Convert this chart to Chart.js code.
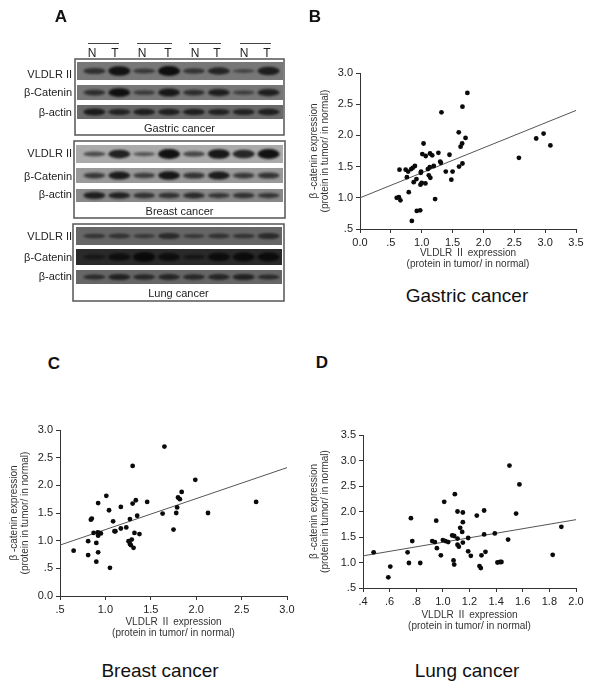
<!DOCTYPE html>
<html>
<head>
<meta charset="utf-8">
<title>VLDLR II and beta-catenin</title>
<script src="https://cdn.jsdelivr.net/npm/chart.js@4/dist/chart.umd.min.js"></script>
<style>
    html, body { margin: 0; padding: 0; background: #fff; }
    body { position: relative; width: 600px; height: 694px; overflow: hidden; font-family: "Liberation Sans", Arial, sans-serif; color: #222; }
    canvas { position: absolute; }
    .txt { position: absolute; white-space: nowrap; transform: translate(-50%, -50%); }
    .letter { font-size: 17px; font-weight: bold; color: #111; }
    .caption { font-size: 19px; color: #111; }
    .small { font-size: 11px; }
    .lane { font-size: 12px; }
    .row { font-size: 11px; transform: translate(-100%, -50%); }
</style>
</head>
<body>
<canvas id="blots" style="left:0;top:0"></canvas>
<canvas id="gastric" style="left:300px;top:60px"></canvas>
<canvas id="breast" style="left:0;top:417px"></canvas>
<canvas id="lung" style="left:300px;top:422px"></canvas>
<script>
// values
const gastricX = [1.74, 1.66, 1.32, 1.60, 1.71, 1.03, 1.655, 1.63, 1.27, 1.01, 1.135, 1.17, 1.065, 1.45, 1.30, 1.31, 1.66, 1.605, 0.64, 0.74, 0.78, 0.83, 0.855, 0.89, 0.99, 0.985, 0.76, 1.195, 1.13, 1.10, 1.39, 1.50, 1.48, 1.115, 1.14, 0.915, 0.87, 1.06, 1.00, 0.98, 0.79, 1.217, 0.595, 0.63, 0.655, 0.92, 0.975, 0.84, 2.575, 2.855, 2.975, 3.085];
const gastricY = [2.68, 2.46, 2.37, 2.05, 1.96, 1.87, 1.87, 1.82, 1.72, 1.70, 1.71, 1.68, 1.67, 1.69, 1.58, 1.56, 1.55, 1.50, 1.45, 1.45, 1.42, 1.46, 1.48, 1.51, 1.42, 1.40, 1.33, 1.51, 1.49, 1.46, 1.42, 1.42, 1.29, 1.36, 1.32, 1.30, 1.25, 1.23, 1.24, 1.21, 1.09, 0.98, 1.00, 1.01, 0.96, 0.79, 0.80, 0.63, 1.64, 1.95, 2.03, 1.84];
const gastricLineX = [0, 3.5];
const gastricLineY = [1.0, 2.4];
const gastricXTicks = ['0.0', '.5', '1.0', '1.5', '2.0', '2.5', '3.0', '3.5'];
const gastricYTicks = ['.5', '1.0', '1.5', '2.0', '2.5', '3.0'];

const breastX = [1.65, 1.30, 1.99, 1.84, 1.01, 1.80, 1.82, 1.335, 1.46, 0.92, 1.30, 1.17, 1.79, 1.04, 1.63, 1.78, 2.13, 2.66, 1.35, 0.85, 0.84, 1.27, 1.085, 1.23, 1.17, 1.75, 1.10, 1.11, 1.32, 1.375, 0.87, 0.915, 0.93, 0.95, 0.92, 0.81, 0.90, 1.255, 1.29, 1.27, 1.28, 1.31, 0.65, 0.92, 0.81, 0.90, 1.05];
const breastY = [2.70, 2.35, 2.10, 1.88, 1.81, 1.78, 1.75, 1.73, 1.70, 1.68, 1.67, 1.61, 1.60, 1.55, 1.49, 1.50, 1.50, 1.70, 1.45, 1.40, 1.38, 1.39, 1.35, 1.24, 1.22, 1.20, 1.17, 1.17, 1.14, 1.12, 1.14, 1.15, 1.14, 1.13, 1.09, 0.99, 0.96, 0.99, 1.02, 0.94, 0.92, 0.87, 0.82, 0.79, 0.74, 0.62, 0.51];
const breastLineX = [0.5, 3.0];
const breastLineY = [0.92, 2.32];
const breastXTicks = ['.5', '1.0', '1.5', '2.0', '2.5', '3.0'];
const breastYTicks = ['0.0', '.5', '1.0', '1.5', '2.0', '2.5', '3.0'];

const lungX = [1.50, 1.575, 1.09, 1.01, 1.11, 1.15, 1.31, 1.255, 1.55, 0.76, 0.95, 1.15, 1.13, 1.145, 1.89, 1.31, 1.39, 1.07, 1.085, 1.19, 1.11, 1.49, 0.77, 0.92, 0.94, 1.00, 1.02, 1.04, 1.15, 1.11, 1.12, 0.955, 0.48, 0.735, 1.19, 1.32, 1.21, 1.29, 0.985, 1.08, 1.085, 0.745, 0.83, 1.41, 1.43, 1.44, 1.275, 1.285, 1.825, 0.605, 0.59];
const lungY = [2.90, 2.53, 2.34, 2.19, 2.00, 1.98, 2.02, 1.92, 1.96, 1.87, 1.82, 1.79, 1.68, 1.60, 1.70, 1.55, 1.57, 1.53, 1.52, 1.48, 1.47, 1.45, 1.42, 1.42, 1.40, 1.44, 1.42, 1.40, 1.39, 1.35, 1.31, 1.28, 1.20, 1.20, 1.22, 1.21, 1.13, 1.14, 1.14, 1.04, 0.96, 0.99, 0.99, 1.00, 1.01, 1.01, 0.93, 0.89, 1.15, 0.92, 0.71];
const lungLineX = [0.4, 2.0];
const lungLineY = [1.13, 1.84];
const lungXTicks = ['.4', '.6', '.8', '1.0', '1.2', '1.4', '1.6', '1.8', '2.0'];
const lungYTicks = ['.5', '1.0', '1.5', '2.0', '2.5', '3.0', '3.5'];

// band strength per lane (N T N T N T N T), guessed from how dark each band looks
const lanes = ['N', 'T', 'N', 'T', 'N', 'T', 'N', 'T'];
const gastricVldlr = [0.45, 0.85, 0.35, 0.9, 0.4, 0.6, 0.2, 0.7];
const gastricCatenin = [0.5, 0.9, 0.35, 0.8, 0.5, 0.7, 0.3, 0.7];
const gastricActin = [0.7, 0.6, 0.65, 0.65, 0.65, 0.6, 0.6, 0.65];
const breastVldlr = [0.35, 0.75, 0.25, 0.9, 0.4, 0.85, 0.7, 0.9];
const breastCatenin = [0.5, 0.8, 0.45, 0.85, 0.55, 0.8, 0.5, 0.55];
const breastActin = [0.75, 0.7, 0.55, 0.55, 0.6, 0.5, 0.55, 0.5];
const lungVldlr = [0.3, 0.35, 0.25, 0.45, 0.25, 0.35, 0.3, 0.45];
const lungCatenin = [0.35, 0.7, 0.95, 0.75, 0.4, 0.8, 0.85, 0.85];
const lungActin = [0.45, 0.6, 0.5, 0.55, 0.5, 0.55, 0.6, 0.45];

const rowNames = ['VLDLR II', 'β-Catenin', 'β-actin'];

// layout of panel A, in page pixels
const blotPanels = [
    { name: 'Gastric cancer', frame: [75, 59, 284, 135], left: 77, right: 283, textY: 128,
      strips: [[62, 80, '#777'], [85, 100, '#777'], [105, 119, '#6a6a6a']], labelY: [74, 92, 112], bands: [gastricVldlr, gastricCatenin, gastricActin] },
    { name: 'Breast cancer', frame: [74, 141, 285, 218], left: 76, right: 283, textY: 211,
      strips: [[145, 163, '#aaa'], [168, 183, '#999'], [189, 202, '#888']], labelY: [153, 176, 194], bands: [breastVldlr, breastCatenin, breastActin] },
    { name: 'Lung cancer', frame: [73, 224, 284, 301], left: 76, right: 282, textY: 293,
      strips: [[227, 245, '#666'], [249, 265, '#2a2a2a'], [270, 284, '#666']], labelY: [236, 257, 276], bands: [lungVldlr, lungCatenin, lungActin] }
];
const laneRules = [[88, 119], [137, 172], [189, 221], [240, 271]];

function addText(cls, text, x, y) {
    const el = document.createElement('div');
    el.className = 'txt ' + cls;
    el.textContent = text;
    el.style.left = x + 'px';
    el.style.top = y + 'px';
    document.body.appendChild(el);
}

function toPoints(xs, ys) {
    return xs.map(function (x, i) { return { x: x, y: ys[i] }; });
}

// blurred ellipse used as the point image of one band
function bandSprite(strength, stripHeight) {
    const c = document.createElement('canvas');
    c.width = 30;
    c.height = 24;
    const g = c.getContext('2d');
    g.filter = 'blur(1.2px)';
    g.fillStyle = 'rgba(8,8,8,' + (0.35 + 0.65 * strength) + ')';
    g.beginPath();
    g.ellipse(15, 12, 11, 1 + strength * stripHeight * 0.25, 0, 0, Math.PI * 2);
    g.fill();
    return c;
}

function drawBlots() {
    const datasets = [];
    blotPanels.forEach(function (p) {
        p.bands.forEach(function (values, r) {
            const strip = p.strips[r];
            const mid = (strip[0] + strip[1]) / 2;
            datasets.push({
                data: values.map(function (v, i) { return { x: i, y: mid }; }),
                pointStyle: values.map(function (v) { return bandSprite(v, strip[1] - strip[0]); }),
                pointRadius: 10
            });
        });
    });

    const panelBackground = {
        id: 'panelBackground',
        beforeDatasetsDraw: function (chart) {
            const ctx = chart.ctx;
            ctx.save();
            blotPanels.forEach(function (p) {
                ctx.strokeStyle = '#555';
                ctx.lineWidth = 1.5;
                ctx.strokeRect(p.frame[0], p.frame[1], p.frame[2] - p.frame[0], p.frame[3] - p.frame[1]);
                p.strips.forEach(function (s) {
                    ctx.fillStyle = s[2];
                    ctx.fillRect(p.left, s[0], p.right - p.left, s[1] - s[0]);
                });
            });
            ctx.strokeStyle = '#444';
            ctx.lineWidth = 1;
            laneRules.forEach(function (l) {
                ctx.beginPath();
                ctx.moveTo(l[0], 43.5);
                ctx.lineTo(l[1], 43.5);
                ctx.stroke();
            });
            ctx.restore();
        }
    };

    const canvas = document.getElementById('blots');
    canvas.width = 300;
    canvas.height = 310;
    new Chart(canvas, {
        type: 'scatter',
        data: { datasets: datasets },
        plugins: [panelBackground],
        options: {
            responsive: false,
            animation: false,
            layout: { autoPadding: false, padding: { left: 82, right: 19, top: 0, bottom: 0 } },
            plugins: { legend: { display: false }, tooltip: { enabled: false } },
            scales: {
                x: { display: false, min: -0.5, max: 7.5 },
                y: { display: false, min: 0, max: 310, reverse: true }
            }
        }
    });
}

function drawScatter(id, size, box, xs, ys, lineX, lineY, xRange, yRange, xStep, yStep, xTicks, yTicks) {
    const canvas = document.getElementById(id);
    canvas.width = size[0];
    canvas.height = size[1];
    return new Chart(canvas, {
        type: 'scatter',
        data: {
            datasets: [
                {
                    data: toPoints(xs, ys),
                    backgroundColor: '#0a0a0a',
                    borderWidth: 0,
                    pointRadius: 2.4
                },
                {
                    type: 'line',
                    data: toPoints(lineX, lineY),
                    borderColor: '#555',
                    borderWidth: 1,
                    pointRadius: 0
                }
            ]
        },
        options: {
            responsive: false,
            animation: false,
            layout: { padding: { left: 0, right: 14, top: 13, bottom: 0 } },
            plugins: { legend: { display: false }, tooltip: { enabled: false } },
            scales: {
                x: {
                    type: 'linear',
                    min: xRange[0],
                    max: xRange[1],
                    afterFit: function (scale) { scale.height = box[1]; },
                    border: { color: '#333' },
                    grid: { drawOnChartArea: false, tickLength: 4, tickColor: '#333' },
                    ticks: {
                        stepSize: xStep,
                        autoSkip: false,
                        maxRotation: 0,
                        padding: 3,
                        color: '#222',
                        font: { family: '"Liberation Sans"', size: 11 },
                        callback: function (v, i) { return xTicks[i]; }
                    },
                    title: {
                        display: true,
                        text: ['VLDLR Ⅱ expression', '(protein in tumor/ in normal)'],
                        color: '#333',
                        padding: 0,
                        font: { family: '"Liberation Sans", "Noto Sans CJK SC"', size: 10, lineHeight: 1.1 }
                    }
                },
                y: {
                    min: yRange[0],
                    max: yRange[1],
                    afterFit: function (scale) { scale.width = box[0]; },
                    border: { color: '#333' },
                    grid: { drawOnChartArea: false, tickLength: 4, tickColor: '#333' },
                    ticks: {
                        stepSize: yStep,
                        autoSkip: false,
                        padding: 3,
                        color: '#222',
                        font: { family: '"Liberation Sans"', size: 11 },
                        callback: function (v, i) { return yTicks[i]; }
                    },
                    title: {
                        display: true,
                        text: ['β -catenin expression', '(protein in tumor/ in normal)'],
                        color: '#333',
                        padding: 9,
                        font: { family: '"Liberation Sans"', size: 10, lineHeight: 1.1 }
                    }
                }
            }
        }
    });
}

drawBlots();
drawScatter('gastric', [290, 210], [60, 41], gastricX, gastricY, gastricLineX, gastricLineY, [0, 3.5], [0.5, 3], 0.5, 0.5, gastricXTicks, gastricYTicks);
drawScatter('breast', [301, 222], [60, 43], breastX, breastY, breastLineX, breastLineY, [0.5, 3], [0, 3], 0.5, 0.5, breastXTicks, breastYTicks);
drawScatter('lung', [290, 210], [63, 44], lungX, lungY, lungLineX, lungLineY, [0.4, 2], [0.5, 3.5], 0.2, 0.5, lungXTicks, lungYTicks);

// panel letters and captions
addText('letter', 'A', 61, 17);
addText('letter', 'B', 315, 17);
addText('letter', 'C', 54, 364);
addText('letter', 'D', 322, 363);
addText('caption', 'Gastric cancer', 467, 296);
addText('caption', 'Breast cancer', 160, 671);
addText('caption', 'Lung cancer', 467, 671);

const laneTextX = [92, 115, 142, 168, 195, 217, 244, 267];
lanes.forEach(function (l, i) { addText('lane', l, laneTextX[i], 53); });
blotPanels.forEach(function (p) {
    addText('small', p.name, (p.frame[0] + p.frame[2]) / 2, p.textY);
    rowNames.forEach(function (name, r) { addText('row', name, 72, p.labelY[r]); });
});
</script>
</body>
</html>
